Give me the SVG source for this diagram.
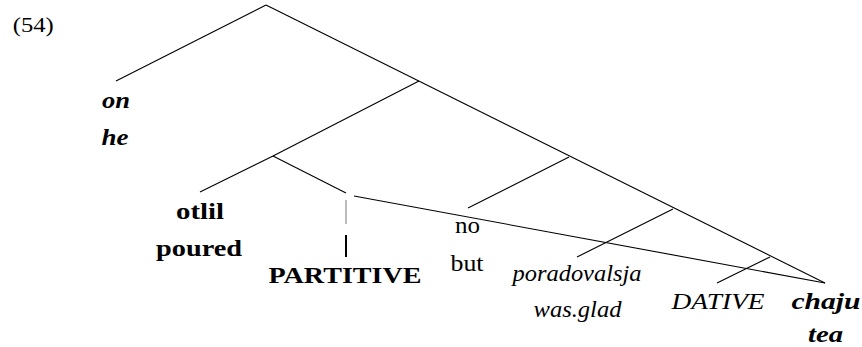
<svg xmlns="http://www.w3.org/2000/svg" width="862" height="347" viewBox="0 0 862 347">
<style>
.t{font-family:"Liberation Serif","Times New Roman",serif;font-size:24px}
.b{font-weight:bold}
.i{font-style:italic}
.bi{font-weight:bold;font-style:italic}
.e line{stroke:#000;stroke-width:1.1;fill:none}
</style>
<rect width="862" height="347" fill="#fff"/>
<g font-family="Liberation Serif, serif" font-size="24" text-anchor="middle" fill="#000">
<text class="t" x="33.3" y="32" style="font-size:21px" textLength="41" lengthAdjust="spacingAndGlyphs">(54)</text>
<g id="on"><text class="t bi" x="116" y="108" textLength="28" lengthAdjust="spacingAndGlyphs">on</text><text class="t bi" x="115" y="145" textLength="27" lengthAdjust="spacingAndGlyphs">he</text></g>
<g id="otlil"><text class="t b" x="200" y="219" textLength="48" lengthAdjust="spacingAndGlyphs">otlil</text><text class="t b" x="199" y="256" textLength="86" lengthAdjust="spacingAndGlyphs">poured</text></g>
<g id="partitive"><text class="t b" x="345" y="282.5" textLength="153" lengthAdjust="spacingAndGlyphs">PARTITIVE</text></g>
<g id="no"><text class="t" x="467.5" y="233" textLength="25" lengthAdjust="spacingAndGlyphs">no</text><text class="t" x="467" y="271" textLength="33" lengthAdjust="spacingAndGlyphs">but</text></g>
<g id="poradovalsja"><text class="t i" x="577" y="281" textLength="129" lengthAdjust="spacingAndGlyphs">poradovalsja</text><text class="t i" x="577.5" y="317" textLength="88" lengthAdjust="spacingAndGlyphs">was.glad</text></g>
<g id="dative"><text class="t i" x="718" y="309" textLength="93" lengthAdjust="spacingAndGlyphs">DATIVE</text></g>
<g id="chaju"><text class="t bi" x="826" y="309" textLength="69" lengthAdjust="spacingAndGlyphs">chaju</text><text class="t bi" x="825.5" y="342" textLength="35" lengthAdjust="spacingAndGlyphs">tea</text></g>
</g>
<g class="e" id="connectors">
<line x1="266" y1="5" x2="116" y2="81"/>
<line x1="266" y1="5" x2="825" y2="283"/>
<line x1="419" y1="81" x2="273" y2="156"/>
<line x1="273" y1="156" x2="200" y2="192"/>
<line x1="273" y1="156" x2="346" y2="193"/>
<line x1="346" y1="200" x2="346" y2="224" style="stroke:#555;stroke-width:0.8"/>
<line x1="346" y1="235" x2="346" y2="257" style="stroke-width:2"/>
<line x1="354" y1="196" x2="825" y2="283"/>
<line x1="569" y1="157" x2="468" y2="208"/>
<line x1="673" y1="209" x2="577" y2="257"/>
<line x1="770" y1="257" x2="717" y2="283"/>
</g>
</svg>
